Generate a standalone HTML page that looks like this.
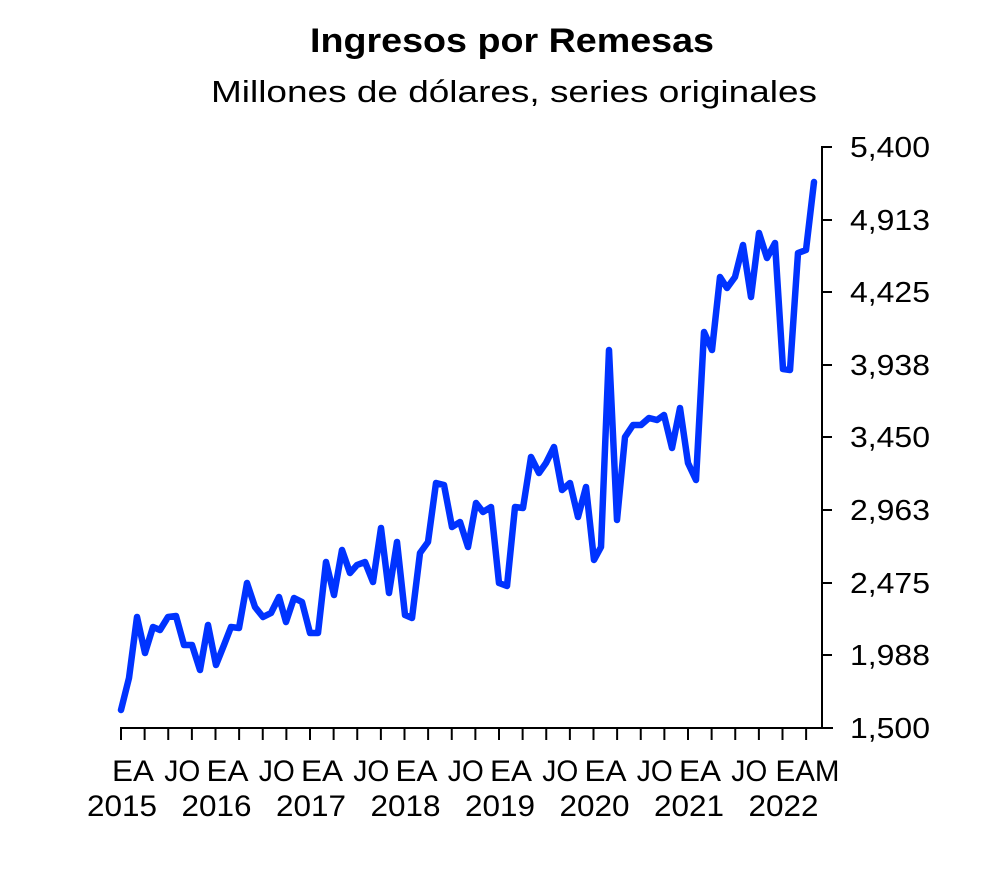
<!DOCTYPE html>
<html><head><meta charset="utf-8"><style>
html,body{margin:0;padding:0;background:#fff;}
svg{display:block;}
text{font-family:"Liberation Sans",Arial,sans-serif;fill:#000;}
</style></head><body>
<svg width="1000" height="888" viewBox="0 0 1000 888">
<text x="512" y="52" text-anchor="middle" font-size="34" font-weight="bold" textLength="404" lengthAdjust="spacingAndGlyphs">Ingresos por Remesas</text>
<text x="514" y="102" text-anchor="middle" font-size="31" textLength="606" lengthAdjust="spacingAndGlyphs">Millones de dólares, series originales</text>
<g stroke="#000" stroke-width="2" fill="none">
<line x1="822" y1="146" x2="822" y2="729"/>
<line x1="120" y1="728" x2="833" y2="728"/>
<path d="M822 147h10M822 220h10M822 292h10M822 365h10M822 437h10M822 510h10M822 583h10M822 655h10M822 728h10"/>
</g>
<g stroke="#000" stroke-width="2" id="xticks"></g>
<g font-size="29">
<text x="850" y="157" textLength="80" lengthAdjust="spacingAndGlyphs">5,400</text>
<text x="850" y="230" textLength="80" lengthAdjust="spacingAndGlyphs">4,913</text>
<text x="850" y="302" textLength="80" lengthAdjust="spacingAndGlyphs">4,425</text>
<text x="850" y="375" textLength="80" lengthAdjust="spacingAndGlyphs">3,938</text>
<text x="850" y="447" textLength="80" lengthAdjust="spacingAndGlyphs">3,450</text>
<text x="850" y="520" textLength="80" lengthAdjust="spacingAndGlyphs">2,963</text>
<text x="850" y="593" textLength="80" lengthAdjust="spacingAndGlyphs">2,475</text>
<text x="850" y="665" textLength="80" lengthAdjust="spacingAndGlyphs">1,988</text>
<text x="850" y="738" textLength="80" lengthAdjust="spacingAndGlyphs">1,500</text>
</g>
<g font-size="30" text-anchor="middle" id="xl"></g>
<polyline fill="none" stroke="#0033ff" stroke-width="6.5" stroke-linejoin="round" stroke-linecap="round" points="
121,710 129,678 137,617 145,653 153,627 160,630 168,617 176,616 184,645 192,645 200,670 208,625 216,665 224,645 231,627 239,628 247,583 255,607 263,617 271,613 279,597 286,622 294,598 302,602 310,633 318,633 326,562 334,595 342,550 350,573 357,565 365,562 373,582 381,528 389,593 397,542 405,615 412,618 420,553 428,542 436,483 444,485 452,527 460,522 468,547 476,503 483,512 491,507 499,583 507,586 515,507 523,508 531,457 539,473 546,463 554,447 562,490 570,483 578,517 586,487 594,560 601,547 609,350 617,520 625,437 633,425 641,425 649,418 657,420 664,415 672,448 680,408 688,463 696,480 704,332 712,350 720,277 727,288 735,277 743,245 751,297 759,233 767,258 775,243 783,369 790,370 798,253 806,250 814,182"/>
</svg>
<script>
var ns="http://www.w3.org/2000/svg";
var g=document.getElementById("xticks"),xl=document.getElementById("xl");
for(var i=0;i<=87;i+=3){var x=121+i*7.875;var l=document.createElementNS(ns,"line");
l.setAttribute("x1",x);l.setAttribute("x2",x);l.setAttribute("y1",728);l.setAttribute("y2",740);g.appendChild(l);}
function t(x,y,s,w){var e=document.createElementNS(ns,"text");e.setAttribute("x",x);e.setAttribute("y",y);e.setAttribute("textLength",w);e.setAttribute("lengthAdjust","spacingAndGlyphs");e.textContent=s;xl.appendChild(e);}
for(var yr=0;yr<8;yr++){var x0=121+yr*12*7.875;
 if(yr<7){t(x0+12,781,"EA",42);t(x0+6*7.875+14,781,"JO",36);}else{t(x0+25,781,"EAM",64);}
 t(x0+1,816,String(2015+yr),70);}
</script>
</body></html>
